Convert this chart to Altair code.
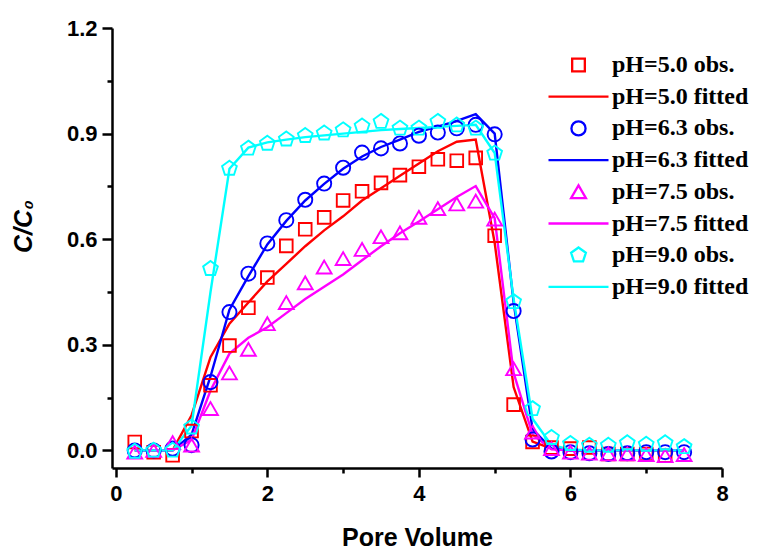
import altair as alt
import pandas as pd

# ---- data ----
x_pts = [0.25, 0.5, 0.75, 1.0, 1.25, 1.5, 1.75, 2.0, 2.25, 2.5, 2.75, 3.0, 3.25, 3.5, 3.75,
         4.0, 4.25, 4.5, 4.75, 5.0, 5.25, 5.5, 5.75, 6.0, 6.25, 6.5, 6.75, 7.0, 7.25, 7.5]

ph50_obs = [0.024, -0.005, -0.014, 0.055, 0.185, 0.298, 0.405, 0.491, 0.581, 0.628, 0.662, 0.710,
            0.736, 0.760, 0.782, 0.806, 0.827, 0.823, 0.831, 0.610, 0.130, 0.024, 0.008, 0.005,
            0.008, -0.010, -0.010, -0.010, -0.015, None]
ph63_obs = [0.0, 0.0, 0.005, 0.015, 0.194, 0.393, 0.502, 0.588, 0.654, 0.712, 0.758, 0.803,
            0.846, 0.858, 0.872, 0.894, 0.903, 0.915, 0.925, 0.898, 0.396, 0.031, -0.003, -0.005,
            -0.008, -0.010, -0.008, -0.005, -0.005, -0.005]
ph75_obs = [-0.005, 0.0, 0.022, 0.015, 0.119, 0.220, 0.287, 0.360, 0.420, 0.476, 0.521, 0.545,
            0.571, 0.607, 0.618, 0.662, 0.687, 0.700, 0.708, 0.657, 0.232, 0.052, 0.005, -0.005,
            -0.008, -0.010, -0.010, -0.012, -0.015, -0.012]
ph90_obs = [-0.003, 0.0, 0.0, 0.066, 0.516, 0.801, 0.858, 0.872, 0.884, 0.894, 0.901, 0.910,
            0.921, 0.934, 0.915, 0.915, 0.934, 0.924, 0.915, 0.844, 0.422, 0.118, 0.036, 0.019,
            0.014, 0.014, 0.021, 0.017, 0.021, 0.010]

ph50_fit = [0.0, 0.0, 0.0, 0.100, 0.265, 0.360, 0.420, 0.480, 0.530, 0.580, 0.625, 0.665,
            0.710, 0.745, 0.780, 0.815, 0.850, 0.877, 0.883, 0.590, 0.180, 0.025, 0.005, 0.0,
            0.0, 0.0, 0.0, 0.0, 0.0, 0.0]
ph63_fit = [0.0, 0.0, 0.0, 0.045, 0.210, 0.400, 0.495, 0.585, 0.652, 0.710, 0.757, 0.800,
            0.835, 0.862, 0.883, 0.905, 0.920, 0.936, 0.955, 0.900, 0.420, 0.060, 0.005, 0.0,
            0.0, 0.0, 0.0, 0.0, 0.0, 0.0]
ph75_fit = [0.0, 0.0, 0.0, 0.030, 0.170, 0.275, 0.320, 0.350, 0.390, 0.430, 0.465, 0.500,
            0.540, 0.580, 0.617, 0.650, 0.685, 0.720, 0.751, 0.660, 0.220, 0.045, 0.003, 0.0,
            0.0, 0.0, 0.0, 0.0, 0.0, 0.0]
ph90_fit = [0.0, 0.0, 0.0, 0.070, 0.450, 0.800, 0.860, 0.875, 0.883, 0.890, 0.895, 0.900,
            0.905, 0.910, 0.913, 0.916, 0.919, 0.922, 0.925, 0.845, 0.430, 0.090, 0.015, 0.003,
            0.0, 0.0, 0.0, 0.0, 0.0, 0.0]

ph_labels = ["pH=5.0", "pH=6.3", "pH=7.5", "pH=9.0"]
series_colors = ["#FF0000", "#0000FF", "#FF00FF", "#00FFFF"]
pentagon = "M0,-1L0.951,-0.309L0.588,0.809L-0.588,0.809L-0.951,-0.309Z"
obs_shapes = ["square", "circle", "triangle-up", pentagon]
obs_sizes = [160, 200, 220, 240]

x_ticks = [0, 1, 2, 3, 4, 5, 6, 7, 8]
y_ticks = [0.0, 0.15, 0.3, 0.45, 0.6, 0.75, 0.9, 1.05, 1.2]

# ---- tables ----
obs_rows, fit_rows = [], []
for lab, obs, fit in zip(ph_labels, [ph50_obs, ph63_obs, ph75_obs, ph90_obs],
                         [ph50_fit, ph63_fit, ph75_fit, ph90_fit]):
    for xv, yv in zip(x_pts, obs):
        if yv is not None:
            obs_rows.append({"series": lab + " obs.", "x": xv, "y": yv})
    for xv, yv in zip(x_pts, fit):
        fit_rows.append({"series": lab + " fitted", "x": xv, "y": yv})
obs_df = pd.DataFrame(obs_rows)
fit_df = pd.DataFrame(fit_rows)

domain, colors, shapes, sizes = [], [], [], []
for lab, c, s, z in zip(ph_labels, series_colors, obs_shapes, obs_sizes):
    domain += [lab + " obs.", lab + " fitted"]
    colors += [c, c]
    shapes += [s, "stroke"]
    sizes += [z, 3600]

legend = alt.Legend(
    title=None, orient="none", legendX=435, legendY=25, padding=0,
    labelFont="Liberation Serif", labelFontWeight="bold", labelFontSize=24,
    labelColor="black", labelOffset=2, labelLimit=400, clipHeight=24, rowPadding=7.7,
    symbolStrokeWidth=2.3, symbolFillColor="transparent",
)

xscale = alt.Scale(domain=[-0.05, 8], nice=False, zero=False)
yscale = alt.Scale(domain=[-0.05, 1.2], nice=False, zero=False)

axis_common = dict(
    grid=False, domainColor="black", domainWidth=2.5, tickColor="black", tickWidth=2.5,
    labelFont="Liberation Sans", labelFontWeight="bold", labelFontSize=22, labelColor="black",
    titleFont="Liberation Sans", titleFontWeight="bold", titleColor="black",
)

xaxis = alt.Axis(
    values=x_ticks, title="Pore Volume", titleFontSize=25, titlePadding=21,
    labelExpr="datum.value % 2 == 0 ? format(datum.value, 'd') : ''",
    tickSize={"condition": {"test": "datum.value % 2 != 0", "value": 5}, "value": 9},
    labelPadding=6, labelFlush=False, labelOverlap=False, **axis_common,
)
yaxis = alt.Axis(
    values=y_ticks, title="C/C₀", titleFontSize=25, titleFontStyle="italic",
    titlePadding=30, titleY=198,
    labelExpr="round(datum.value / 0.15) % 2 == 0 ? format(datum.value, '.1f') : ''",
    tickSize={"condition": {"test": "round(datum.value / 0.15) % 2 != 0", "value": 5}, "value": 10},
    labelPadding=5, labelFlush=False, labelOverlap=False, **axis_common,
)

color_enc = alt.Color("series:N", scale=alt.Scale(domain=domain, range=colors), legend=legend)

lines = alt.Chart(fit_df).mark_line(strokeWidth=2.4).encode(
    x=alt.X("x:Q", scale=xscale, axis=xaxis),
    y=alt.Y("y:Q", scale=yscale, axis=yaxis),
    color=color_enc,
    order="x:Q",
)

points = alt.Chart(obs_df).mark_point(filled=False, strokeWidth=1.9, opacity=1).encode(
    x=alt.X("x:Q", scale=xscale, axis=xaxis),
    y=alt.Y("y:Q", scale=yscale, axis=yaxis),
    color=color_enc,
    shape=alt.Shape("series:N", scale=alt.Scale(domain=domain, range=shapes), legend=legend),
    size=alt.Size("series:N", scale=alt.Scale(type="ordinal", domain=domain, range=sizes), legend=legend),
)

chart = alt.layer(lines, points).properties(
    width=610, height=440,
    autosize=alt.AutoSizeParams(type="none"),
    padding={"left": 104, "top": 20, "right": 31, "bottom": 82},
    background="white",
).configure_view(stroke=None)

chart.save("out.html", embed_options={"renderer": "svg", "actions": False})
